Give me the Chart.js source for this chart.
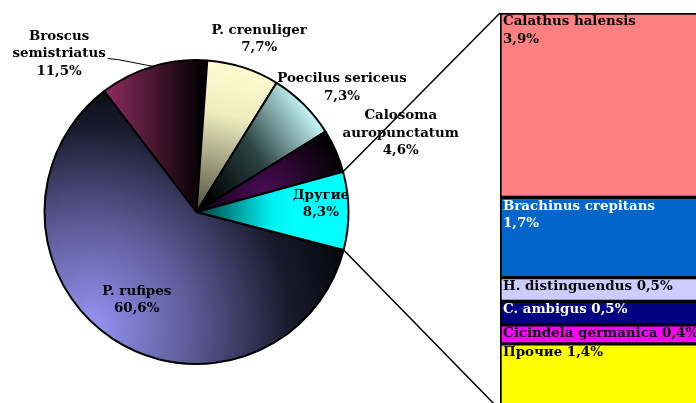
<!DOCTYPE html>
<html>
<head>
<meta charset="utf-8">
<script src="https://cdn.jsdelivr.net/npm/chart.js@4.4.1/dist/chart.umd.min.js"></script>
<style>
html, body { margin: 0; padding: 0; background: #fff; overflow: hidden; }
#wrap { position: relative; width: 696px; height: 403px; overflow: hidden; }
#pieChart { position: absolute; left: 0; top: 0; }
#barChart { position: absolute; left: 490px; top: 0; }
</style>
</head>
<body>
<div id="wrap">
	<canvas id="pieChart" width="696" height="403"></canvas>
	<canvas id="barChart" width="260" height="410"></canvas>
</div>
<script>
// ===== DATA =====
const pieNames = ['P. rufipes', 'Broscus semistriatus', 'P. crenuliger', 'Poecilus sericeus', 'Calosoma auropunctatum', 'Другие'];
const pieValues = [60.6, 11.5, 7.7, 7.3, 4.6, 8.3];

const barNames = ['Calathus halensis', 'Brachinus crepitans', 'H. distinguendus', 'C. ambigus', 'Cicindela germanica', 'Прочие'];
const barValues = [3.9, 1.7, 0.5, 0.5, 0.4, 1.4];

// ===== STYLE / LAYOUT =====
const FONT = 'bold 13.4px "DejaVu Serif"';
const LINE_H = 17.5;
const barColors = ['#ff8080', '#0066cc', '#ccccff', '#000080', '#ff00ff', '#ffff00'];
const flatPie = ['#4a4a80', '#5a1c3c', '#c8c6a0', '#4a6a6a', '#2a0630', '#00d0d0'];
// [angle shift in degrees, distance as part of radius], wrap name, leader line
const labelPlace = [[0.6, 0.70], [-24.3, 1.38], [2, 1.21], [4.5, 1.26], [2.6, 1.44], [-3.3, 0.82]];
const labelWrap = [false, true, false, false, true, false];
const labelLeader = [false, true, false, false, false, false];

const fmt = v => v.toFixed(1).replace('.', ',') + '%';

function sliceFill(c, i, cx, cy, r) {
	let g;
	if (i === 0) {
		g = c.createRadialGradient(cx - 0.7 * r, cy + 0.75 * r, 0, cx - 0.7 * r, cy + 0.75 * r, 1.9 * r);
		g.addColorStop(0, '#9595f5');
		g.addColorStop(0.35, '#5e5c98');
		g.addColorStop(0.7, '#18182a');
		g.addColorStop(1, '#000000');
	} else if (i === 1) {
		g = c.createLinearGradient(cx - 0.6 * r, 0, cx + 0.05 * r, 0);
		g.addColorStop(0, '#8e2c5e');
		g.addColorStop(1, '#000000');
	} else if (i === 2) {
		g = c.createLinearGradient(cx + 0.25 * r, cy - r, cx, cy);
		g.addColorStop(0, '#fffcd2');
		g.addColorStop(0.35, '#f0eec0');
		g.addColorStop(1, '#4c4c3c');
	} else if (i === 3) {
		g = c.createLinearGradient(cx + 0.8 * r, cy - 0.55 * r, cx + 0.1 * r, cy - 0.05 * r);
		g.addColorStop(0, '#c0f0f0');
		g.addColorStop(0.5, '#2c4444');
		g.addColorStop(1, '#000000');
	} else if (i === 4) {
		g = c.createRadialGradient(cx + 0.45 * r, cy - 0.12 * r, 0, cx + 0.45 * r, cy - 0.12 * r, 0.55 * r);
		g.addColorStop(0, '#4c0c58');
		g.addColorStop(1, '#000000');
	} else {
		g = c.createLinearGradient(cx, 0, cx + 0.65 * r, 0);
		g.addColorStop(0, '#003c3c');
		g.addColorStop(0.75, '#00f0f0');
		g.addColorStop(1, '#00ffff');
	}
	return g;
}

// ===== BAR (breakdown of "Другие") =====
const barLabels = {
	id: 'barLabels',
	afterDatasetsDraw(chart) {
		const c = chart.ctx;
		c.save();
		c.font = FONT;
		c.textAlign = 'left';
		c.textBaseline = 'top';
		chart.data.datasets.forEach((ds, i) => {
			const el = chart.getDatasetMeta(i).data[0];
			const left = el.x - el.width / 2 + 3;
			const top = Math.min(el.y, el.base) + 2;
			const h = Math.abs(el.base - el.y);
			const col = barColors[i];
			const lum = 0.299 * parseInt(col.substr(1, 2), 16) + 0.587 * parseInt(col.substr(3, 2), 16) + 0.114 * parseInt(col.substr(5, 2), 16);
			c.fillStyle = lum < 95 ? '#ffffff' : '#000000';
			// tall segments get name and value on two lines
			if (h > 70) {
				c.fillText(barNames[i], left, top);
				c.fillText(fmt(barValues[i]), left, top + LINE_H);
			} else {
				c.fillText(barNames[i] + ' ' + fmt(barValues[i]), left, top);
			}
		});
		c.restore();
	}
};

const barChart = new Chart(document.getElementById('barChart'), {
	type: 'bar',
	data: {
		labels: [''],
		datasets: barNames.map((n, i) => ({
			label: n,
			data: [barValues[i]],
			backgroundColor: barColors[i],
			borderColor: '#000000',
			borderWidth: 2,
			borderSkipped: false,
			barPercentage: 1,
			categoryPercentage: 1
		}))
	},
	options: {
		responsive: false,
		animation: false,
		layout: { padding: { left: 10, top: 13, right: 0, bottom: 0 } },
		scales: {
			x: { stacked: true, display: false },
			y: { stacked: true, display: false, reverse: true, min: 0, max: barValues.reduce((a, b) => a + b, 0) }
		},
		plugins: { legend: { display: false }, tooltip: { enabled: false } }
	},
	plugins: [barLabels]
});

// ===== PIE =====
const pieLabels = {
	id: 'pieLabels',
	afterDatasetsDraw(chart) {
		const c = chart.ctx;
		const arcs = chart.getDatasetMeta(0).data;
		c.save();
		c.font = FONT;
		c.textAlign = 'center';
		c.textBaseline = 'middle';
		c.fillStyle = '#000000';
		c.strokeStyle = '#000000';
		c.lineWidth = 1;
		arcs.forEach((arc, i) => {
			const mid = (arc.startAngle + arc.endAngle) / 2;
			const a = mid + labelPlace[i][0] * Math.PI / 180;
			const d = arc.outerRadius * labelPlace[i][1];
			const x = arc.x + Math.cos(a) * d;
			const y = arc.y + Math.sin(a) * d;
			const lines = (labelWrap[i] ? pieNames[i].split(' ') : [pieNames[i]]).concat(fmt(pieValues[i]));
			const top = y - (lines.length - 1) * LINE_H / 2;
			lines.forEach((t, k) => c.fillText(t, x, top + k * LINE_H));
			if (labelLeader[i]) {
				const k = lines.length - 2;
				const w = c.measureText(lines[k]).width;
				const sx = x + w / 2 + 2;
				const sy = top + k * LINE_H + 5;
				c.beginPath();
				c.moveTo(sx, sy);
				c.lineTo(sx + 10, sy + 1);
				c.lineTo(arc.x + Math.cos(mid) * arc.outerRadius, arc.y + Math.sin(mid) * arc.outerRadius);
				c.stroke();
			}
		});
		c.restore();
	}
};

const connectors = {
	id: 'connectors',
	afterDraw(chart) {
		const c = chart.ctx;
		const arc = chart.getDatasetMeta(0).data[pieValues.length - 1];
		const bc = barChart.canvas;
		const first = barChart.getDatasetMeta(0).data[0];
		const last = barChart.getDatasetMeta(barValues.length - 1).data[0];
		const bx = bc.offsetLeft + first.x - first.width / 2;
		const byTop = bc.offsetTop + Math.min(first.y, first.base);
		const byBot = bc.offsetTop + Math.max(last.y, last.base);
		c.save();
		c.strokeStyle = '#000000';
		c.lineWidth = 1.5;
		c.beginPath();
		c.moveTo(arc.x + Math.cos(arc.startAngle) * arc.outerRadius, arc.y + Math.sin(arc.startAngle) * arc.outerRadius);
		c.lineTo(bx, byTop);
		c.moveTo(arc.x + Math.cos(arc.endAngle) * arc.outerRadius, arc.y + Math.sin(arc.endAngle) * arc.outerRadius);
		c.lineTo(bx, byBot);
		c.stroke();
		c.restore();
	}
};

new Chart(document.getElementById('pieChart'), {
	type: 'pie',
	data: {
		labels: pieNames,
		datasets: [{
			data: pieValues,
			backgroundColor: function(context) {
				const area = context.chart.chartArea;
				if (!area) return flatPie[context.dataIndex];
				const cx = (area.left + area.right) / 2;
				const cy = (area.top + area.bottom) / 2;
				const r = Math.min(area.width, area.height) / 2;
				return sliceFill(context.chart.ctx, context.dataIndex, cx, cy, r);
			},
			borderColor: '#000000',
			borderWidth: 2
		}]
	},
	options: {
		responsive: false,
		animation: false,
		rotation: 104.5,
		layout: { padding: { left: 43, top: 59, right: 346, bottom: 38 } },
		plugins: { legend: { display: false }, tooltip: { enabled: false } }
	},
	plugins: [pieLabels, connectors]
});
</script>
</body>
</html>
